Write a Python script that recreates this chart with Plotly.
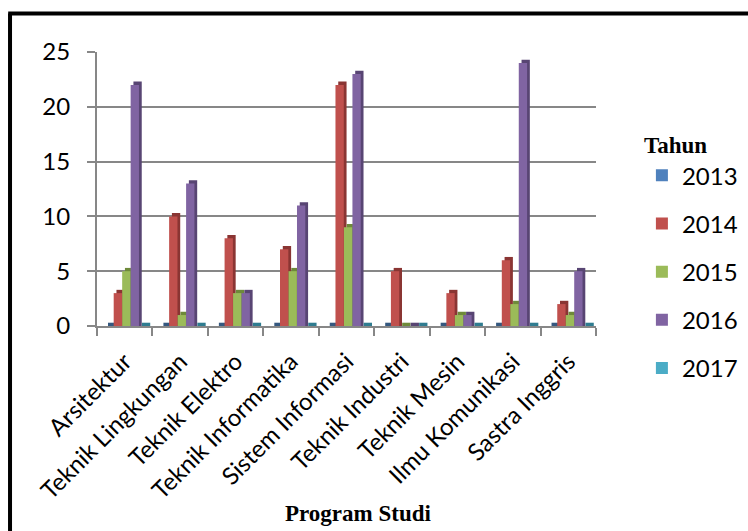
import plotly.graph_objects as go

# Jumlah per program studi dan tahun
programs = [
    "Arsitektur", "Teknik Lingkungan", "Teknik Elektro", "Teknik Informatika",
    "Sistem Informasi", "Teknik Industri", "Teknik Mesin", "Ilmu Komunikasi",
    "Sastra Inggris",
]
years = ["2013", "2014", "2015", "2016", "2017"]
v2013 = [0, 0, 0, 0, 0, 0, 0, 0, 0]
v2014 = [3, 10, 8, 7, 22, 5, 3, 6, 2]
v2015 = [5, 1, 3, 5, 9, 0, 1, 2, 1]
v2016 = [22, 13, 3, 11, 23, 0, 1, 24, 5]
v2017 = [0, 0, 0, 0, 0, 0, 0, 0, 0]
y_ticks = [0, 5, 10, 15, 20, 25]

series = [v2013, v2014, v2015, v2016, v2017]
face = ["#4F81BD", "#C0504D", "#9BBB59", "#8064A2", "#4BACC6"]
side = ["#35587F", "#8A3533", "#6E8A3A", "#584573", "#2F7C90"]

BAR_W = 0.15      # front face width (category units)
STEP = 0.153      # spacing between series within a category
START = -0.352    # left edge of the first series relative to category centre
DEPTH_X = 0.05    # horizontal depth of the side face
DEPTH_Y = 0.3     # vertical depth of the top face

GRID = "#878787"
LABEL_FONT = "Lato"
TITLE_FONT = "Liberation Serif"

fig = go.Figure()
for i, (yr, vals) in enumerate(zip(years, series)):
    off = START + i * STEP
    # darker block behind each bar gives the extruded side/top
    fig.add_trace(go.Bar(
        x=programs, y=[v + DEPTH_Y for v in vals], base=0,
        offset=off + DEPTH_X, width=BAR_W,
        marker=dict(color=side[i], line=dict(width=0)),
        legendgroup=yr, showlegend=False, hoverinfo="skip",
    ))
    fig.add_trace(go.Bar(
        x=programs, y=vals, name=yr,
        offset=off, width=BAR_W,
        marker=dict(color=face[i], line=dict(width=0)),
        legendgroup=yr,
    ))

# outer frame (left and top edges)
frame = dict(color="black", width=4)
fig.add_shape(type="line", xref="paper", yref="paper",
              x0=-0.1743, x1=-0.1743, y0=1.1405, y1=-0.75, line=frame)
fig.add_shape(type="line", xref="paper", yref="paper",
              x0=-0.178, x1=1.31, y0=1.1405, y1=1.1405, line=frame)

fig.add_annotation(
    text="<b>Program Studi</b>", xref="paper", yref="paper",
    x=0.523, y=-0.686, xanchor="center", yanchor="middle", showarrow=False,
    font=dict(family=TITLE_FONT, size=23, color="black"),
)

fig.update_layout(
    width=748, height=531,
    margin=dict(l=97, r=152, t=52, b=205, autoexpand=False),
    paper_bgcolor="white", plot_bgcolor="white",
    barmode="overlay",
    font=dict(family=LABEL_FONT, size=22, color="black"),
    showlegend=True,
    legend=dict(
        x=1.092, y=0.74, xanchor="left", yanchor="top",
        traceorder="grouped", tracegroupgap=14, maxheight=1.0,
        font=dict(family=LABEL_FONT, size=24, color="black"),
        title=dict(text="<b>Tahun</b>", side="top",
                   font=dict(family=TITLE_FONT, size=23, color="black")),
        bgcolor="rgba(0,0,0,0)",
    ),
    xaxis=dict(
        range=[-0.5, 8.5], tickangle=-45, showgrid=False,
        showline=True, linecolor=GRID, linewidth=2,
        ticks="outside", tickson="boundaries", ticklen=8, tickwidth=2,
        tickcolor=GRID, tickfont=dict(family=LABEL_FONT, size=24),
        ticklabelstandoff=10, automargin=False,
    ),
    yaxis=dict(
        range=[0, 25], tickvals=y_ticks, showgrid=True, gridcolor=GRID,
        gridwidth=2, zeroline=False, showline=True, linecolor=GRID,
        linewidth=2, ticks="outside", ticklen=8, tickwidth=2, tickcolor=GRID,
        ticklabelstandoff=12, tickfont=dict(family=LABEL_FONT, size=24),
        automargin=False,
    ),
)

fig.write_html("out.html")
